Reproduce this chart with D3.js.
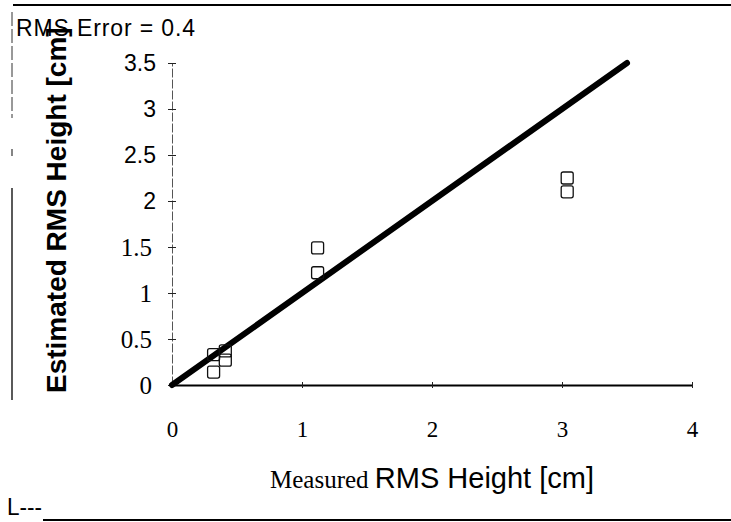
<!DOCTYPE html>
<html>
<head>
<meta charset="utf-8">
<script src="https://cdn.jsdelivr.net/npm/d3@7"></script>
<style>
  body { margin: 0; background: #fff; }
  svg { display: block; }
</style>
</head>
<body>
<svg id="chart"></svg>
<script>
// data
const measured  = [0.32, 0.41, 0.41, 0.32, 1.12, 1.12, 3.04, 3.04];
const estimated = [0.33, 0.37, 0.27, 0.14, 1.49, 1.22, 2.25, 2.10];
const xTicks = [0, 1, 2, 3, 4];
const yTicks = [0, 0.5, 1, 1.5, 2, 2.5, 3, 3.5];
const lineEnds = [0, 3.5];   // 1:1 reference line
const rmsError = 0.4;

const W = 731, H = 522;
const margin = { top: 63, right: 39, bottom: 137, left: 172 };
const width = W - margin.left - margin.right;
const height = H - margin.top - margin.bottom;

const svg = d3.select('#chart').attr('width', W).attr('height', H);
const chart = svg.append('g')
    .attr('transform', `translate(${margin.left},${margin.top})`);

const x = d3.scaleLinear().domain([0, 4]).range([0, width]);
const y = d3.scaleLinear().domain([0, 3.5]).range([height, 0]);

const sans = 'Liberation Sans, Arial, sans-serif';
const serif = 'Liberation Serif, Times New Roman, serif';

// frame bits of the scan
svg.append('line').attr('x1', 13).attr('x2', W).attr('y1', 5).attr('y2', 5)
    .attr('stroke', '#000').attr('stroke-width', 2);
svg.append('line').attr('x1', 43).attr('x2', W).attr('y1', 520).attr('y2', 520)
    .attr('stroke', '#000').attr('stroke-width', 2);
svg.append('line').attr('x1', 12).attr('x2', 12).attr('y1', 12).attr('y2', 118)
    .attr('stroke', '#333').attr('stroke-width', 1).attr('stroke-dasharray', '14 3');
svg.append('line').attr('x1', 12).attr('x2', 12).attr('y1', 149).attr('y2', 156)
    .attr('stroke', '#333').attr('stroke-width', 1.2);
svg.append('line').attr('x1', 12).attr('x2', 12).attr('y1', 188).attr('y2', 400)
    .attr('stroke', '#000').attr('stroke-width', 1.3);
svg.append('text').attr('x', 7).attr('y', 515)
    .attr('textLength', 35).attr('lengthAdjust', 'spacingAndGlyphs')
    .style('font-family', sans).style('font-size', '24px').text('L---');

// x axis
const xAxis = d3.axisBottom(x).tickValues(xTicks).tickFormat(d3.format('d'))
    .tickSize(3).tickSizeOuter(0);
const xAxisG = chart.append('g').attr('transform', `translate(0,${height})`).call(xAxis);
xAxisG.select('.domain').attr('stroke', '#000').attr('stroke-width', 2);
xAxisG.selectAll('.tick line').attr('y1', -3).attr('y2', 3).attr('stroke', '#222');
xAxisG.selectAll('.tick text')
    .attr('y', 52).attr('dy', 0)
    .style('font-family', serif).style('font-size', '23px').attr('fill', '#000');

// y axis
const yAxis = d3.axisLeft(y).tickValues(yTicks).tickSize(4).tickSizeOuter(0)
    .tickFormat(d => d === 0 ? '0' : d3.format('')(d));
const yAxisG = chart.append('g').call(yAxis);
yAxisG.select('.domain').attr('stroke', '#555').attr('stroke-width', 1)
    .attr('stroke-dasharray', '9 2');
yAxisG.selectAll('.tick line').attr('x1', -4).attr('x2', 4).attr('stroke', '#222');
yAxisG.selectAll('.tick text')
    .attr('x', d => d >= 2 ? -16 : -20)
    .style('font-family', d => d >= 2 ? sans : serif)
    .style('font-size', d => d >= 2 ? '23px' : '25px')
    .attr('fill', '#000');

// 1:1 line
chart.append('line')
    .attr('x1', x(lineEnds[0])).attr('y1', y(lineEnds[0]))
    .attr('x2', x(lineEnds[1])).attr('y2', y(lineEnds[1]))
    .attr('stroke', '#000').attr('stroke-width', 6).attr('stroke-linecap', 'round');

// open square markers
const pts = measured.map((m, i) => ({ m, e: estimated[i] }));
const s = 12;
chart.selectAll('rect.pt')
  .data(pts)
  .enter()
  .append('rect')
    .attr('class', 'pt')
    .attr('x', d => x(d.m) - s / 2)
    .attr('y', d => y(d.e) - s / 2)
    .attr('width', s).attr('height', s)
    .attr('rx', 2)
    .attr('fill', 'none').attr('stroke', '#111').attr('stroke-width', 1.3);

// y label
chart.append('text')
    .attr('transform', `translate(${66 - margin.left},${y(0) + 8}) rotate(-90)`)
    .attr('text-anchor', 'start')
    .style('font-family', sans).style('font-weight', 'bold').style('font-size', '28px')
    .text('Estimated RMS Height [cm]');

// x label
const xl = chart.append('text')
    .attr('x', x(2)).attr('y', height + 103)
    .attr('text-anchor', 'middle');
xl.append('tspan').style('font-family', serif).style('font-size', '25px').text('Measured ');
xl.append('tspan').style('font-family', sans).style('font-size', '29px').text('RMS Height [cm]');

// rms error note
svg.append('text').attr('x', 16).attr('y', 36)
    .attr('textLength', 179).attr('lengthAdjust', 'spacing')
    .style('font-family', sans).style('font-size', '23px')
    .text(`RMS Error = ${rmsError}`);
</script>
</body>
</html>
